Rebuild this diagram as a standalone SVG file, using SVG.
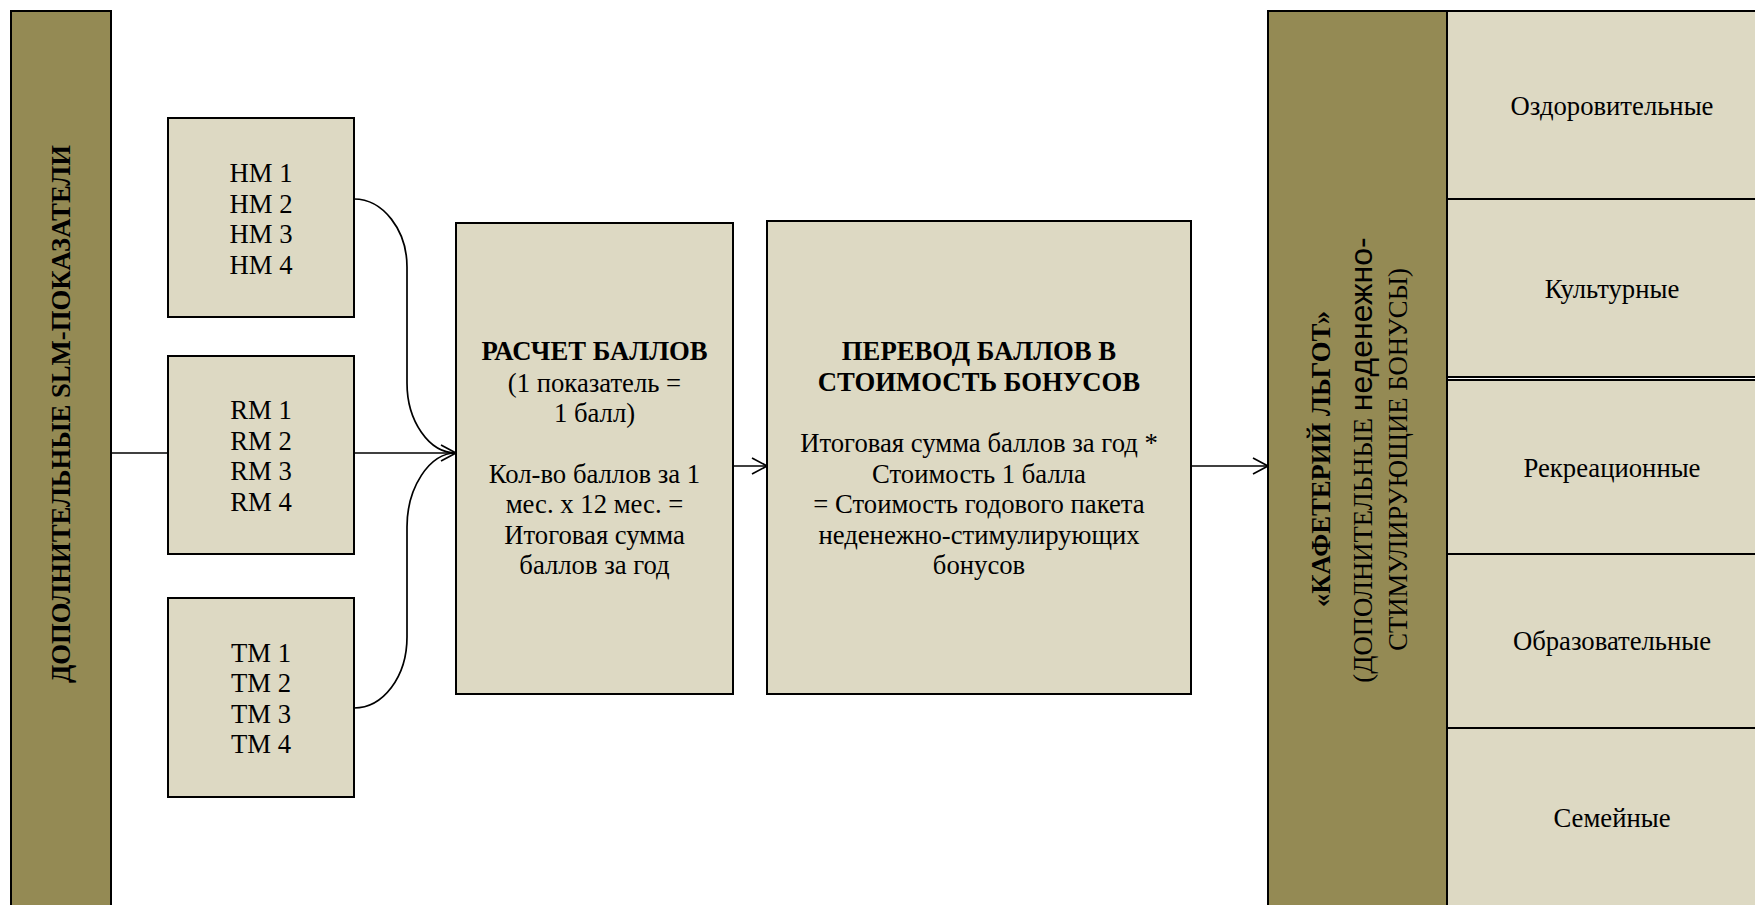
<svg xmlns="http://www.w3.org/2000/svg" width="1755" height="905" viewBox="0 0 1755 905">
<defs>
<style>
.bar{fill:#948A54;stroke:#000;stroke-width:2}
.box{fill:#DDD9C3;stroke:#000;stroke-width:2}
.t{font-family:"Liberation Serif","Times New Roman",serif;font-size:26.7px;fill:#000;text-anchor:middle}
.b{font-weight:bold}
.s{font-family:"Liberation Sans",Arial,sans-serif;font-size:32px}
.c{fill:none;stroke:#000;stroke-width:1.7}
</style>
<marker id="arr" markerUnits="userSpaceOnUse" markerWidth="18" markerHeight="18" viewBox="0 0 18 18" refX="16" refY="9" orient="auto">
<path d="M1,1 L16,9 L1,17" fill="none" stroke="#000" stroke-width="1.7"/>
</marker>
</defs>
<rect width="1755" height="905" fill="#fff"/>

<g id="connectors">
<path class="c" d="M111,453 L168,453"/>
<path class="c" d="M354,453 L456,453" marker-end="url(#arr)"/>
<path class="c" d="M354,199 C383,199 407,230 407,267 L407,383 C407,421 429,453 456,453"/>
<path class="c" d="M354,708 C383,708 407,677 407,637 L407,527 C407,488 429,453 456,453"/>
<path class="c" d="M733,466 L767,466" marker-end="url(#arr)"/>
<path class="c" d="M1191,466 L1268,466" marker-end="url(#arr)"/>
</g>

<g id="slm-bar">
<rect class="bar" x="11" y="11" width="100" height="920"/>
<text class="t b" transform="translate(70,414) rotate(-90)">ДОПОЛНИТЕЛЬНЫЕ SLM-ПОКАЗАТЕЛИ</text>
</g>

<g id="hm">
<rect class="box" x="168" y="118" width="186" height="199"/>
<text class="t" x="261" y="182">HM 1</text>
<text class="t" x="261" y="212.5">HM 2</text>
<text class="t" x="261" y="243">HM 3</text>
<text class="t" x="261" y="273.5">HM 4</text>
</g>

<g id="rm">
<rect class="box" x="168" y="356" width="186" height="198"/>
<text class="t" x="261" y="419">RM 1</text>
<text class="t" x="261" y="449.5">RM 2</text>
<text class="t" x="261" y="480">RM 3</text>
<text class="t" x="261" y="510.5">RM 4</text>
</g>

<g id="tm">
<rect class="box" x="168" y="598" width="186" height="199"/>
<text class="t" x="261" y="661.5">TM 1</text>
<text class="t" x="261" y="692">TM 2</text>
<text class="t" x="261" y="722.5">TM 3</text>
<text class="t" x="261" y="753">TM 4</text>
</g>

<g id="calc">
<rect class="box" x="456" y="223" width="277" height="471"/>
<text class="t b" x="594.5" y="360">РАСЧЕТ БАЛЛОВ</text>
<text class="t" x="594.5" y="391.5">(1 показатель =</text>
<text class="t" x="594.5" y="422">1 балл)</text>
<text class="t" x="594.5" y="483">Кол-во баллов за 1</text>
<text class="t" x="594.5" y="513">мес. х 12 мес. =</text>
<text class="t" x="594.5" y="543.5">Итоговая сумма</text>
<text class="t" x="594.5" y="574">баллов за год</text>
</g>

<g id="transfer">
<rect class="box" x="767" y="221" width="424" height="473"/>
<text class="t b" x="979" y="360">ПЕРЕВОД БАЛЛОВ В</text>
<text class="t b" x="979" y="390.5">СТОИМОСТЬ БОНУСОВ</text>
<text class="t" x="979" y="452">Итоговая сумма баллов за год *</text>
<text class="t" x="979" y="482.5">Стоимость 1 балла</text>
<text class="t" x="979" y="513">= Стоимость годового пакета</text>
<text class="t" x="979" y="543.5">неденежно-стимулирующих</text>
<text class="t" x="979" y="574">бонусов</text>
</g>

<g id="cafeteria-bar">
<rect class="bar" x="1268" y="11" width="179" height="920"/>
<text class="t b" transform="translate(1330,459) rotate(-90)">«КАФЕТЕРИЙ ЛЬГОТ»</text>
<text class="t" transform="translate(1372,460) rotate(-90)">(ДОПОЛНИТЕЛЬНЫЕ <tspan class="s">неденежно-</tspan></text>
<text class="t" transform="translate(1407,459.5) rotate(-90)">СТИМУЛИРУЮЩИЕ БОНУСЫ)</text>
</g>

<g id="cell-health">
<rect class="box" x="1447" y="11" width="330" height="188"/>
<text class="t" x="1612" y="115">Оздоровительные</text>
</g>
<g id="cell-culture">
<rect class="box" x="1447" y="199" width="330" height="178"/>
<text class="t" x="1612" y="298">Культурные</text>
</g>
<g id="cell-recreation">
<rect class="box" x="1447" y="380" width="330" height="174"/>
<text class="t" x="1612" y="476.5">Рекреационные</text>
</g>
<g id="cell-education">
<rect class="box" x="1447" y="554" width="330" height="174"/>
<text class="t" x="1612" y="650">Образовательные</text>
</g>
<g id="cell-family">
<rect class="box" x="1447" y="728" width="330" height="200"/>
<text class="t" x="1612" y="827">Семейные</text>
</g>
</svg>
